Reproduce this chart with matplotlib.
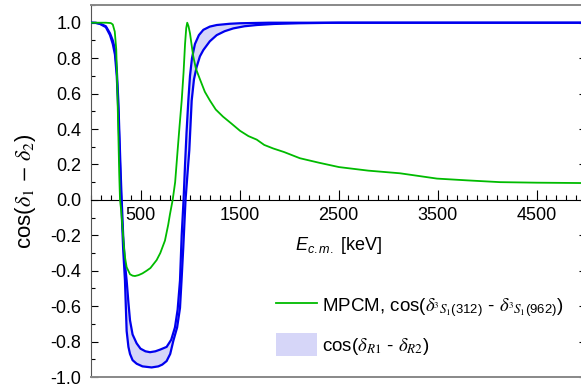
import matplotlib
matplotlib.use("Agg")
import matplotlib.pyplot as plt
import matplotlib.patches as mpatches
from matplotlib.lines import Line2D
from matplotlib.ticker import MultipleLocator, FixedLocator

plt.rcParams['font.family'] = ['Liberation Sans', 'DejaVu Sans']
plt.rcParams['mathtext.fontset'] = 'stix'
# sans math font, used only where math_fontfamily='custom'
plt.rcParams['mathtext.rm'] = 'Liberation Sans'
plt.rcParams['mathtext.it'] = 'Liberation Sans:italic'
plt.rcParams['mathtext.bf'] = 'Liberation Sans:bold'
plt.rcParams['axes.unicode_minus'] = False

# MPCM curve, cos(delta_3S1(312) - delta_3S1(962))
green_E = [0, 100, 150, 200, 220, 240, 255, 265, 275, 285, 293, 305, 320, 333,
           345, 360, 394, 420, 444, 480, 520, 562, 600, 663, 700, 747, 780, 798,
           825, 850, 875, 895, 916, 935, 950, 962, 972, 985, 1000, 1015, 1033,
           1060, 1101, 1150, 1202, 1260, 1333, 1420, 1505, 1590, 1674, 1750,
           1841, 1950, 2110, 2300, 2505, 2800, 3121, 3495, 3800, 4131, 4500,
           4939, 5000]
green_val = [1.0, 1.0, 1.0, 0.998, 0.99, 0.95, 0.85, 0.65, 0.40, 0.15, 0.0,
             -0.06, -0.17, -0.27, -0.33, -0.38, -0.42, -0.428, -0.43, -0.425,
             -0.415, -0.40, -0.385, -0.34, -0.30, -0.23, -0.14, -0.08, 0.0,
             0.10, 0.28, 0.42, 0.56, 0.72, 0.88, 0.97, 1.0, 0.98, 0.94, 0.88,
             0.81, 0.74, 0.68, 0.61, 0.56, 0.51, 0.47, 0.43, 0.39, 0.36, 0.34,
             0.31, 0.29, 0.27, 0.235, 0.21, 0.185, 0.165, 0.15, 0.12, 0.11,
             0.10, 0.097, 0.095, 0.095]

# band cos(delta_R1 - delta_R2): upper and lower bounds
upper_E = [0, 50, 91, 150, 192, 220, 242, 260, 276, 290, 300, 310, 325, 343,
           360, 378, 394, 420, 461, 500, 550, 596, 650, 700, 764, 810, 848, 875,
           899, 916, 935, 950, 965, 983, 1000, 1020, 1050, 1090, 1135, 1200,
           1270, 1400, 1505, 1800, 5000]
upper_val = [1.0, 0.999, 0.995, 0.98, 0.94, 0.90, 0.85, 0.74, 0.56, 0.32, 0.15,
             0.0, -0.2, -0.36, -0.455, -0.58, -0.68, -0.76, -0.81, -0.84,
             -0.855, -0.86, -0.855, -0.845, -0.83, -0.79, -0.72, -0.62, -0.455,
             -0.2, 0.0, 0.2, 0.38, 0.56, 0.70, 0.80, 0.88, 0.93, 0.96, 0.978,
             0.987, 0.994, 0.997, 1.0, 1.0]

lower_E = [0, 50, 91, 150, 192, 220, 242, 260, 276, 290, 300, 312, 325, 343,
           360, 378, 394, 420, 461, 520, 612, 680, 720, 764, 800, 832, 870, 899,
           915, 932, 955, 975, 993, 1005, 1017, 1040, 1067, 1100, 1135, 1200,
           1270, 1350, 1438, 1550, 1674, 1850, 2100, 2500, 5000]
lower_val = [1.0, 0.999, 0.993, 0.975, 0.93, 0.88, 0.82, 0.70, 0.50, 0.25,
             0.08, -0.1, -0.28, -0.455, -0.74, -0.83, -0.87, -0.905, -0.925,
             -0.94, -0.946, -0.94, -0.93, -0.91, -0.87, -0.795, -0.72, -0.61,
             -0.45, -0.27, 0.0, 0.15, 0.28, 0.42, 0.56, 0.68, 0.75, 0.81,
             0.846, 0.895, 0.93, 0.952, 0.968, 0.98, 0.987, 0.993, 0.997, 1.0,
             1.0]

x_major = [500, 1500, 2500, 3500, 4500]
y_ticks = [1.0, 0.8, 0.6, 0.4, 0.2, 0.0, -0.2, -0.4, -0.6, -0.8, -1.0]
y_labels = ['1.0', '0.8', '0.6', '0.4', '0.2', '0.0', '-0.2', '-0.4', '-0.6',
            '-0.8', '-1.0']

green = '#00bb00'
blue = '#0000ee'
band = '#d6d6f8'

fig = plt.figure(figsize=(5.81, 3.86), dpi=100)
ax = fig.add_axes([91 / 581, 9 / 386, 495 / 581, 372 / 386])

# band between the two bounds
poly_x = upper_E + lower_E[::-1]
poly_y = upper_val + lower_val[::-1]
ax.fill(poly_x, poly_y, color=band, lw=0, zorder=1)
ax.plot(upper_E, upper_val, color=blue, lw=1.6, zorder=3)
ax.plot(lower_E, lower_val, color=blue, lw=1.6, zorder=3)
ax.plot(green_E, green_val, color=green, lw=1.3, zorder=4)

ax.set_xlim(0, 5000)
ax.set_ylim(-1.0, 1.1)

# x axis drawn through y = 0
ax.spines['bottom'].set_position(('data', 0))
ax.spines['bottom'].set_color('black')
ax.spines['top'].set_color('#888888')
ax.spines['top'].set_linewidth(1.4)
ax.spines['left'].set_color('#555555')
ax.axhline(-1.0, color='#888888', lw=1.4, clip_on=False, zorder=5)

ax.xaxis.set_major_locator(FixedLocator(x_major))
ax.xaxis.set_minor_locator(MultipleLocator(100))
ax.yaxis.set_minor_locator(MultipleLocator(0.1))
ax.tick_params(axis='x', which='major', direction='in', length=7, width=0.8,
               labelsize=13, pad=5)
ax.tick_params(axis='x', which='minor', direction='in', length=3.5, width=0.8)
ax.tick_params(axis='y', which='major', direction='in', length=5, width=0.8,
               labelsize=13, pad=7, right=True)
ax.tick_params(axis='y', which='minor', direction='in', length=3, width=0.8,
               right=True)
ax.set_yticks(y_ticks)
ax.set_yticklabels(y_labels)

ax.set_ylabel(r'cos($\delta_1$ $-$ $\delta_2$)', fontsize=16)
ax.yaxis.set_label_coords(-0.108, 0.5)
ax.text(2500, -0.26, r'$E_{c.m.}$ [keV]', fontsize=13, ha='center',
        va='center', math_fontfamily='custom')

handles = [
    Line2D([], [], color=green, lw=1.3),
    mpatches.Patch(color=band, lw=0),
]
labels = [
    r'MPCM, cos($\delta_{{}^{3}S_{1}\mathregular{(312)}}$ - '
    r'$\delta_{{}^{3}S_{1}\mathregular{(962)}}$)',
    r'cos($\delta_{R1}$ - $\delta_{R2}$)',
]
fig.legend(handles, labels, loc='upper left', frameon=False, fontsize=13.5,
           bbox_to_anchor=(276 / 581, 1 - 294 / 386),
           bbox_transform=fig.transFigure, borderpad=0, borderaxespad=0,
           handlelength=2.2, handletextpad=0.25, labelspacing=0.75,
           handleheight=1.5)

fig.savefig('out.png', dpi=100)
